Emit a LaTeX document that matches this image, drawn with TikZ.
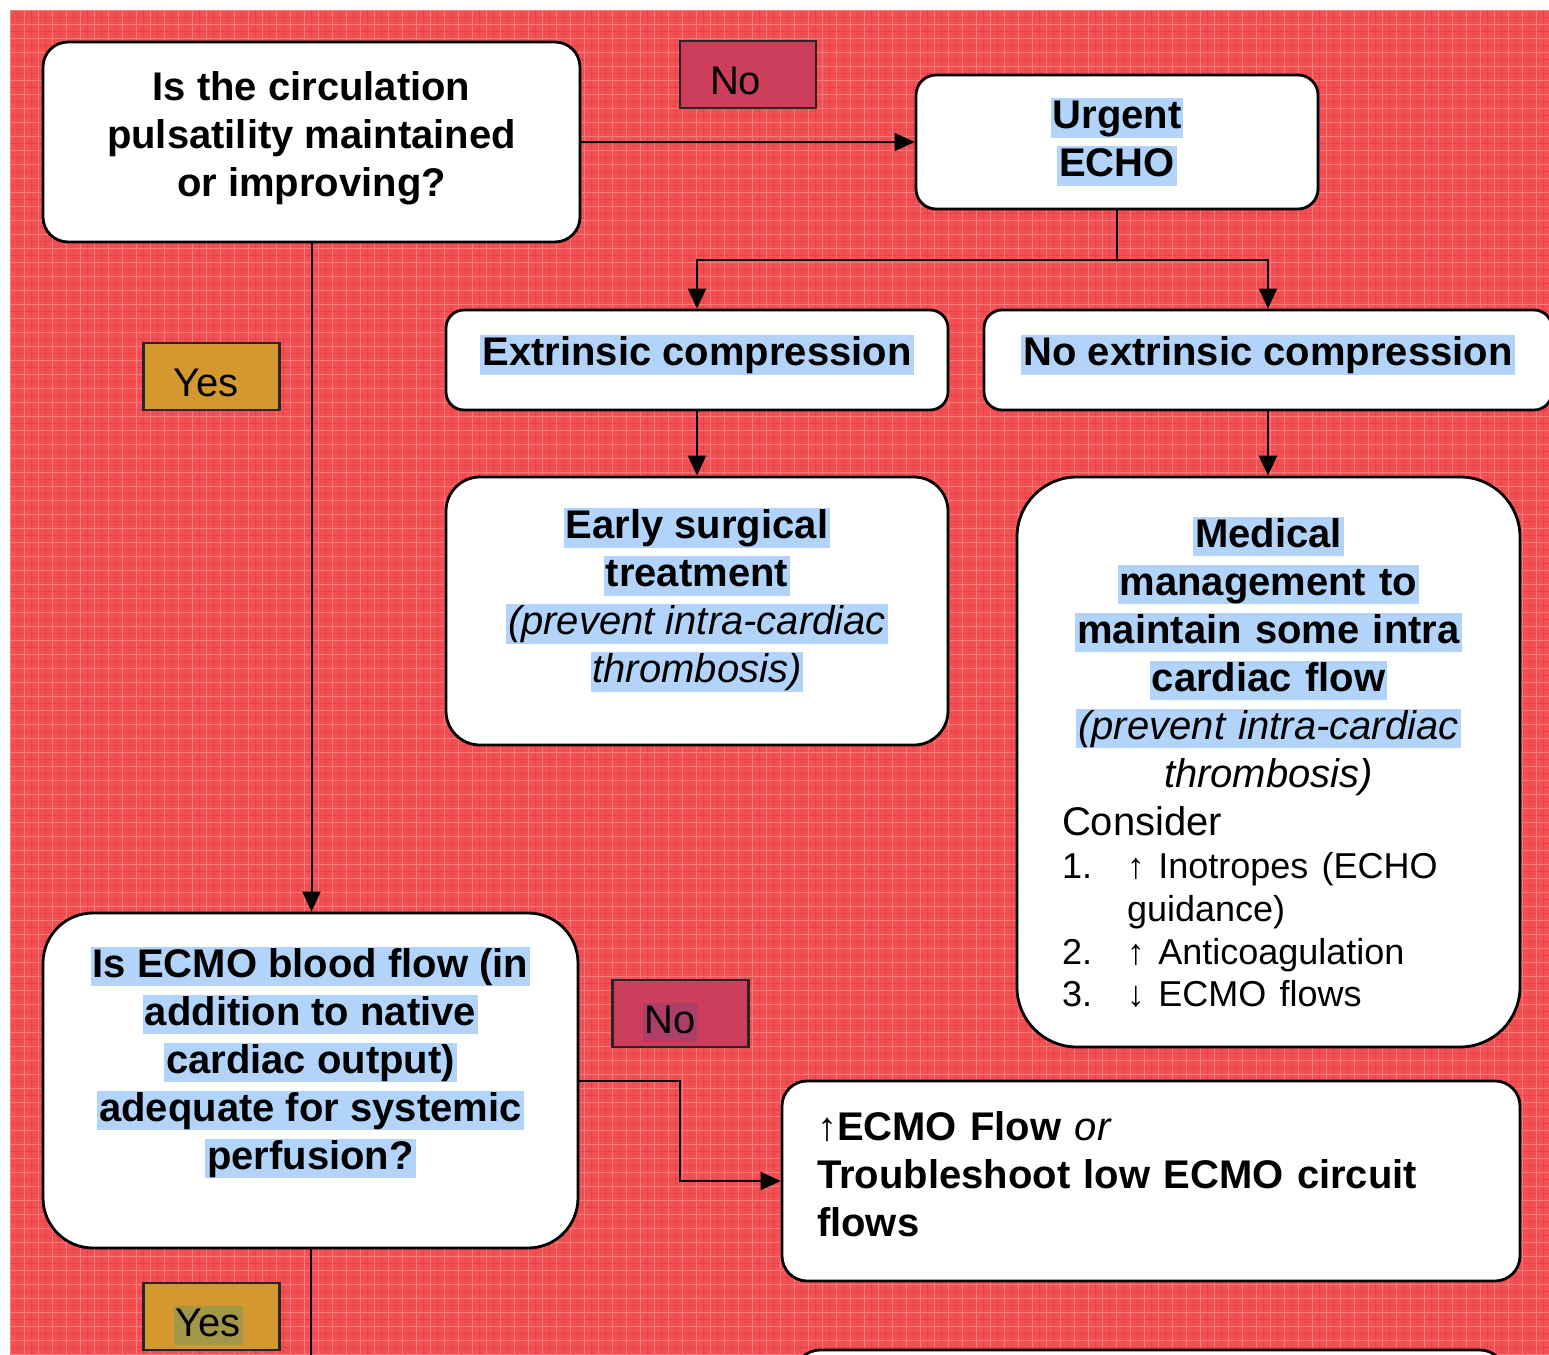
\documentclass[tikz,border=0pt]{standalone}
\usepackage{fontspec}
\setmainfont{Liberation Sans}
\usetikzlibrary{arrows.meta,calc}

\definecolor{bgred}{RGB}{243,80,84}
\definecolor{gridlt}{RGB}{250,122,124}
\definecolor{griddk}{RGB}{232,66,72}
\definecolor{hlblue}{RGB}{178,212,250}
\definecolor{nofill}{RGB}{204,62,92}
\definecolor{yesfill}{RGB}{213,152,46}
\definecolor{nohl}{RGB}{172,62,104}
\definecolor{yeshl}{RGB}{162,150,72}

% text highlight, one line at a time
\newcommand\hlc[2]{{\setlength{\fboxsep}{0pt}\colorbox{#1}{\rule[-0.22em]{0pt}{0.98em}\hspace{1pt}#2\hspace{1pt}}}}
\newcommand\hl[1]{\hlc{hlblue}{#1}}
% thin arrows that do not disturb the line spacing
\newcommand\upar{\smash{↑}}
\newcommand\dnar{\smash{↓}}

\begin{document}
\begin{tikzpicture}[x=0.5pt,y=-0.5pt,
  box/.style={draw=black, fill=white, line width=1.4pt,
    font=\fontsize{20}{24}\selectfont\bfseries, align=center, inner sep=0pt},
  flag/.style={draw=black!85, line width=1.2pt, font=\fontsize{20}{24}\selectfont,
    inner xsep=15pt, inner ysep=0pt, text width=38pt, align=left,
    minimum height=33.5pt, text height=19.5pt, text depth=0pt},
  link/.style={line width=1pt},
  arr/.style={line width=1pt, -{Triangle[length=10pt,width=9pt]}}]

\useasboundingbox (0,0) rectangle (1549,1355);
\begin{scope}
\clip (0,0) rectangle (1549,1355);

% paper background with fine grid
\fill[white] (0,0) rectangle (1549,1355);
\fill[bgred] (10,10) rectangle (1549,1355);
\foreach \gx in {17,31,...,1549} \draw[griddk, line width=0.4pt] (\gx,10) -- (\gx,1355);
\foreach \gy in {17,31,...,1355} \draw[griddk, line width=0.4pt] (10,\gy) -- (1549,\gy);
\foreach \gx in {10,24,...,1549} \draw[gridlt, line width=0.5pt] (\gx,10) -- (\gx,1355);
\foreach \gy in {10,24,...,1355} \draw[gridlt, line width=0.5pt] (10,\gy) -- (1549,\gy);

% boxes
\node[box, rounded corners=12.5pt, minimum width=268.5pt, minimum height=100pt,
      text depth=7.7pt] (a) at (311.5,142)
  {Is the circulation\\ pulsatility maintained\\ or improving?};

\node[box, rounded corners=10pt, minimum width=201pt, minimum height=67pt] (b) at (1117,142)
  {\hl{Urgent}\\ \hl{ECHO}};

\node[box, rounded corners=9pt, minimum width=251pt, minimum height=50pt,
      text depth=9.4pt] (c) at (697,360)
  {\hl{Extrinsic compression}};

\node[box, rounded corners=9pt, minimum width=284pt, minimum height=50pt,
      text depth=9.4pt] (d) at (1268,360)
  {\hl{No extrinsic compression}};

\node[box, rounded corners=17pt, minimum width=251pt, minimum height=134pt,
      text depth=15.4pt] (e) at (697,611)
  {\hl{Early surgical}\\ \hl{treatment}\\
   {\mdseries\itshape \hl{(prevent intra-cardiac}}\\
   {\mdseries\itshape \hl{thrombosis)}}};

\node[box, rounded corners=30pt, minimum width=251.5pt, minimum height=285pt,
      text width=206.5pt, inner xsep=22.5pt, align=left] (f) at (1268.5,762)
  {{\centering \hl{Medical}\\ \hl{management to}\\ \hl{maintain some intra}\\ \hl{cardiac flow}\\
    {\mdseries\itshape \hl{(prevent intra-cardiac}}\\
    {\mdseries\itshape thrombosis)}\par}
   \mdseries Consider\par
   \fontsize{18}{21.5}\selectfont
   \makebox[32.5pt][l]{1.}\upar{} Inotropes (ECHO\\
   \hspace*{32.5pt}guidance)\\
   \makebox[32.5pt][l]{2.}\upar{} Anticoagulation\\[-3pt]
   \makebox[32.5pt][l]{3.}\dnar{} ECMO flows};

\node[box, rounded corners=25pt, minimum width=267.5pt, minimum height=167.5pt,
      text depth=22.1pt] (g) at (310.5,1080.5)
  {\hl{Is ECMO blood flow (in}\\ \hl{addition to native}\\ \hl{cardiac output)}\\
   \hl{adequate for systemic}\\ \hl{perfusion?}};

\node[box, rounded corners=12.5pt, minimum width=369pt, minimum height=100pt,
      text width=334pt, inner xsep=17.5pt, align=left, text height=8pt] (h) at (1151,1181)
  {{\mdseries\upar}ECMO Flow {\mdseries\itshape or}\\
   Troubleshoot low ECMO circuit\\ flows};

\node[box, rounded corners=12.5pt, minimum width=355pt, minimum height=100pt] (nxt) at (1150,1450) {};

% answer flags
\node[flag, fill=nofill, minimum width=68pt] (no1) at (748,74.5) {No};
\node[flag, fill=yesfill, minimum width=67.5pt] (yes1) at (211.5,376.5) {Yes};
\node[flag, fill=nofill, minimum width=67.5pt] (no2) at (680.5,1013.5) {\hlc{nohl}{No}};
\node[flag, fill=yesfill, minimum width=67.5pt] (yes2) at (211.5,1316.5) {\hlc{yeshl}{Yes}};

% connectors
\coordinate (bj) at (1117,260);
\coordinate (gj) at (680,1080.5);
\coordinate (gout) at (310.5,1370);

\draw[arr] (a.east) -- (b.west);
\draw[link] (b.south) -- (bj);
\draw[arr] (bj) -| (c.north);
\draw[arr] (bj) -| (d.north);
\draw[arr] (c.south) -- (c.south |- e.north);
\draw[arr] (d.south) -- (d.south |- f.north);
\draw[arr] (a.south) -- (a.south |- g.north);
\draw[arr] (g.east) -- (gj) |- (h.west);
\draw[link] (g.south) -- (gout);

\end{scope}
\end{tikzpicture}
\end{document}
